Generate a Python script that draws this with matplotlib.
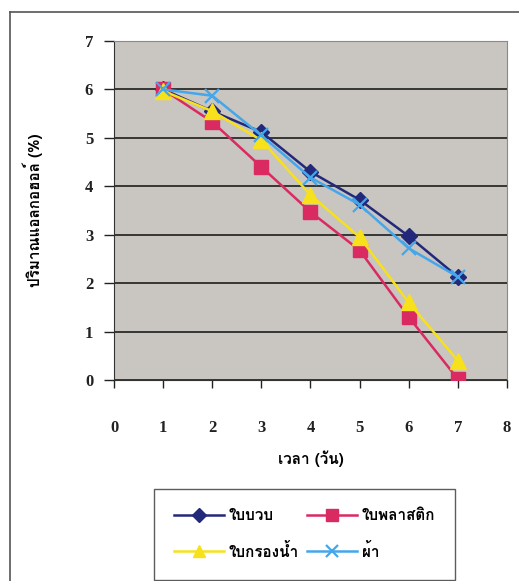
import matplotlib
matplotlib.use("Agg")
import matplotlib.pyplot as plt
from matplotlib import font_manager
from matplotlib.ft2font import FT2Font
from matplotlib.lines import Line2D

# alcohol content over days for each filter material
days = [1, 2, 3, 4, 5, 6, 7]
luffa = [6.0, 5.55, 5.12, 4.30, 3.72, 2.97, 2.13]
plastic = [6.0, 5.33, 4.40, 3.47, 2.68, 1.30, 0.02]
water_filter = [5.97, 5.55, 4.95, 3.82, 2.95, 1.60, 0.40]
cloth = [6.0, 5.87, 5.05, 4.18, 3.62, 2.72, 2.13]

labels = ["ใบบวบ", "ใบพลาสติก", "ใบกรองน้ำ", "ผ้า"]
xticks = list(range(0, 9))
yticks = list(range(0, 8))


def thai_family():
    # pick the first installed font that has Thai glyphs
    for f in font_manager.fontManager.ttflist:
        try:
            cmap = FT2Font(f.fname).get_charmap()
        except Exception:
            continue
        if 0x0E1A in cmap and 0x0E43 in cmap:
            return f.name
    return "DejaVu Sans"


thai = [thai_family(), "DejaVu Sans"]
serif = "Liberation Serif"

fig = plt.figure(figsize=(5.19, 5.81), dpi=100)
ax = fig.add_axes([0.2197, 0.346, 0.757, 0.5834])
ax.set_facecolor("#c9c5c1")

h1, = ax.plot(days, luffa, color="#23297a", marker="D", ms=8, lw=1.8,
              label=labels[0], zorder=3)
h2, = ax.plot(days, plastic, color="#d92a62", marker="s", ms=10, lw=1.8,
              label=labels[1], zorder=3)
h3, = ax.plot(days, water_filter, color="#f7e11a", marker="^", ms=11, lw=1.8,
              label=labels[2], zorder=3)
h4, = ax.plot(days, cloth, color="#45a6ea", marker="x", ms=10, mew=1.6, lw=1.8,
              label=labels[3], zorder=3)

ax.set_xlim(0, 8)
ax.set_ylim(0, 7)
ax.set_xticks(xticks)
ax.set_yticks(yticks)
ax.yaxis.grid(True, color="#2a2a2a", lw=1.3)
ax.set_axisbelow(True)

for side in ["top", "right"]:
    ax.spines[side].set_color("#8a8a8a")
    ax.spines[side].set_linewidth(0.8)
ax.spines["left"].set_color("#333333")
ax.spines["bottom"].set_color("#333333")

ax.tick_params(axis="y", direction="out", length=7, width=1, pad=8,
               labelsize=12, colors="#222222")
ax.tick_params(axis="x", direction="out", length=6, width=1, pad=23,
               labelsize=12, colors="#222222")
for lab in ax.get_xticklabels() + ax.get_yticklabels():
    lab.set_fontfamily(serif)
    lab.set_fontweight("bold")

ax.set_xlabel("เวลา (วัน)", family=thai, fontsize=11, fontweight="bold",
              labelpad=10)
ax.set_ylabel("ปริมาณแอลกอฮอล์ (%)", family=thai, fontsize=11,
              fontweight="bold", labelpad=30)

# legend reads row by row: first two series on top, other two below
leg = fig.legend([h1, h3, h2, h4], [labels[0], labels[2], labels[1], labels[3]],
                 loc="upper left", bbox_to_anchor=(154 / 519, 1 - 489 / 581),
                 borderaxespad=0, ncol=2, frameon=True, fancybox=False,
                 handlelength=3.3, handletextpad=0.3, columnspacing=0.5,
                 borderpad=1.3, labelspacing=1.3, markerscale=0.85,
                 prop={"family": thai, "size": 11, "weight": "bold"})
leg.get_frame().set_edgecolor("#333333")
leg.get_frame().set_linewidth(1.0)

# outer chart border, left and top edges
fig.add_artist(Line2D([10 / 519, 10 / 519], [0, 1 - 12 / 581],
                      transform=fig.transFigure, color="#555555", lw=1.2))
fig.add_artist(Line2D([10 / 519, 1], [1 - 12 / 581, 1 - 12 / 581],
                      transform=fig.transFigure, color="#555555", lw=1.2))

fig.savefig("out.png", dpi=100)
